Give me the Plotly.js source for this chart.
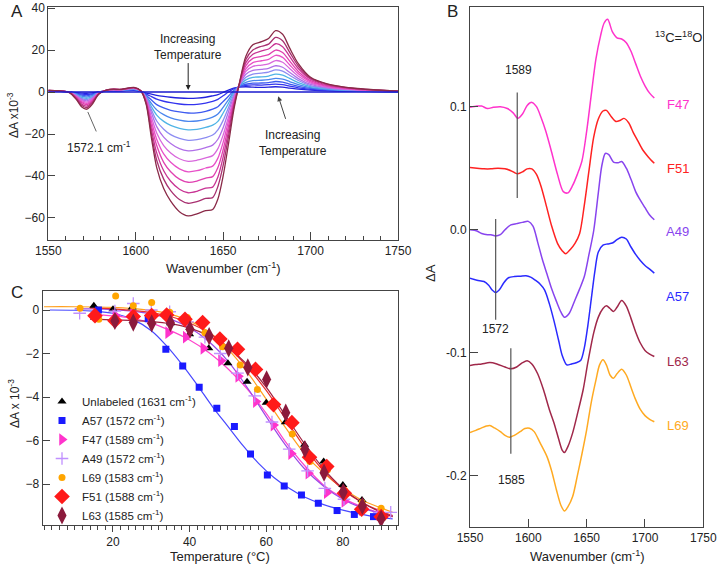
<!DOCTYPE html>
<html><head><meta charset="utf-8">
<script src="https://cdn.plot.ly/plotly-3.0.1.min.js"></script>
<style>html,body{margin:0;padding:0;background:#fff}#chart{width:720px;height:567px}</style>
</head><body><div id="chart"></div>
<script>
// ---------------- Panel A: temperature-dependent difference spectra ----------------
const wnA = [1550,1556,1562,1566,1569,1572,1575,1579,1585,1592,1599,1603,1606,1609,1612,1616,1620,1625,1630,1635,1640,1644,1647,1650,1653,1656,1659,1663,1667,1672,1676,1680,1684,1688,1693,1700,1710,1725,1750];
const specA_0  = [0,0,0,0,0,0,0,0,0,0,0,0,0,0,0,0,0,0,0,0,0,0,0,0,0,0,0,0,0,0,0,0,0,0,0,0,0,0,0];
const specA_1  = [0.6,0.4,0,-0.3,-0.5,-0.6,-0.4,0,0.4,0.5,0.8,0.2,-0.5,-1,-1.6,-2.1,-2.5,-2.85,-3,-2.9,-2.5,-1.8,-1.2,-0.2,0.9,1.8,2.3,2.5,2.3,2.2,2.3,2.5,2.3,1.9,1.4,0.9,0.5,0.3,0.1];
const specA_2  = [0.6,0.4,0,-0.5,-1,-1.2,-0.9,0,0.5,0.6,1,0.3,-1,-2.2,-3.4,-4.4,-5.1,-5.7,-6,-5.9,-5.3,-4.5,-3.5,-1.8,0,1.5,2.5,3.2,3.4,3.3,3.5,3.8,3.5,2.8,2,1.3,0.8,0.4,0.1];
const specA_3  = [0.6,0.4,0,-0.8,-1.5,-1.8,-1.3,0,0.6,0.7,1.1,0.3,-1.5,-3.8,-6,-7.6,-8.7,-9.5,-10,-9.9,-9.2,-8.2,-7,-4.5,-2,0.6,2.6,3.7,4.2,4.3,4.5,5,4.7,3.8,2.7,1.7,1,0.5,0.1];
const specA_4  = [0.6,0.4,0,-1,-2,-2.4,-1.7,0,0.7,0.8,1.3,0.3,-2,-5.5,-8.5,-10.8,-12.3,-13.4,-14,-13.8,-13,-12,-10.5,-7.3,-3.8,0,2.7,4.6,5.4,5.6,5.9,6.5,6.1,5,3.5,2.1,1.2,0.6,0.2];
const specA_5  = [0.7,0.5,0,-1.3,-2.5,-3,-2.2,-0.1,0.8,0.9,1.4,0.4,-2.3,-7,-11,-14,-15.9,-17.3,-18,-17.8,-16.9,-15.8,-14,-10,-5.5,-0.5,2.8,5.8,7,7.2,7.6,8.5,8,6.5,4.5,2.6,1.5,0.7,0.2];
const specA_6  = [0.7,0.5,0,-1.5,-3,-3.6,-2.6,-0.2,0.9,1,1.6,0.5,-2.6,-8.5,-13.8,-17.7,-20.3,-22.1,-23,-22.7,-21.7,-20.5,-18,-13.5,-7.5,-1.5,2.9,7,8.5,9,9.5,10.5,9.9,8,5.5,3.1,1.8,0.9,0.3];
const specA_7  = [0.7,0.5,0,-1.8,-3.5,-4.2,-3.1,-0.3,1,1.1,1.7,0.5,-3,-10,-16.5,-21.5,-24.5,-27,-28,-27.6,-26.5,-25.3,-22.5,-17,-9.5,-2.5,3,8.5,10.3,10.8,11.3,12.5,11.8,9.4,6.4,3.6,2,1,0.3];
const specA_8  = [0.7,0.5,-0.1,-2,-4,-4.8,-3.5,-0.4,1,1.1,1.8,0.5,-3.5,-12,-19.5,-25.5,-29,-31.8,-33,-32.5,-31.4,-30.3,-27,-20.5,-12,-3.5,3,9.8,12.2,12.8,13.4,15,14.2,11.2,7.5,4.2,2.3,1.1,0.3];
const specA_9  = [0.7,0.5,-0.1,-2.3,-4.5,-5.4,-3.9,-0.5,1.1,1.2,1.9,0.5,-4,-14,-22.5,-29.5,-33.5,-36.6,-38,-37.5,-36.2,-35.3,-31.5,-24,-14,-4.5,3,11,14,14.9,15.6,17.5,16.5,13,8.7,4.8,2.6,1.3,0.4];
const specA_10 = [0.8,0.5,-0.1,-2.6,-5,-6,-4.4,-0.6,1.1,1.2,2,0.5,-4.5,-16,-25.5,-33.5,-38,-41.5,-43,-42.4,-41,-40.3,-36,-27.5,-16.5,-5.5,3,12.5,16,17,17.8,20,18.8,14.8,9.8,5.4,2.9,1.4,0.4];
const specA_11 = [0.8,0.6,-0.2,-2.9,-5.7,-6.7,-4.9,-0.7,1.1,1.2,2.1,0.5,-5,-18,-29,-37.5,-42.5,-46.3,-48,-47.3,-45.8,-45.3,-40.5,-31,-19,-6.5,3,14,18,19.6,20.5,23,21.6,17,11.2,6.1,3.3,1.6,0.4];
const specA_12 = [0.8,0.6,-0.2,-3.2,-6.3,-7.4,-5.4,-0.8,1.2,1.3,2.1,0.5,-5.5,-20,-32.5,-41.5,-47,-51.2,-53,-52.2,-50.7,-50.3,-45,-35,-21.5,-7.5,3,15.5,20,21.8,22.8,26,24.4,19,12.4,6.6,3.6,1.7,0.4];
const specA_13 = [0.8,0.6,-0.3,-3.5,-7,-8.2,-6,-1,1.2,1.3,2.2,0.5,-6,-22,-36,-46,-52,-57,-59,-58,-56.5,-56,-51,-40,-25,-9,3,17,22.5,24,25.5,29.2,27.5,21,13.5,7,3.8,1.8,0.4];
const colorsA = ['#1a1acc','#2222dd','#3333ee','#3d5af0','#4a86ee','#4fb4e6','#8c8cf2','#b070e8','#d868dc','#e850c8','#e040b0','#c83494','#a83070','#8a2a48'];

// ---------------- Panel B: isotope-labelled spectra (offset) ----------------
const labelsB = ['F47','F51','A49','A57','L63','L69'];
const colorsB = ['#ff33cc','#ff2222','#8844ee','#2a2aff','#a0284a','#ffaa22'];
const wnF47 = [1550,1556,1560,1565,1570,1576,1582,1587,1591,1595,1599,1603,1607,1611,1615,1620,1625,1630,1634,1638,1642,1646,1650,1654,1658,1662,1665,1668,1672,1676,1680,1684,1688,1692,1696,1700,1704,1708];
const dAF47 = [0.0995,0.1005,0.1005,0.0985,0.0995,0.100,0.0985,0.095,0.0905,0.094,0.101,0.1035,0.100,0.091,0.080,0.063,0.045,0.031,0.030,0.036,0.045,0.056,0.080,0.110,0.139,0.158,0.168,0.171,0.161,0.156,0.155,0.152,0.145,0.135,0.125,0.117,0.111,0.107];
const wnF51 = [1550,1556,1562,1568,1574,1580,1585,1588,1591,1595,1599,1603,1607,1611,1615,1620,1625,1629,1632,1636,1640,1644,1648,1652,1656,1660,1664,1667,1671,1675,1679,1682,1686,1690,1694,1698,1703,1708];
const dAF51 = [0.0505,0.050,0.0495,0.0495,0.050,0.0495,0.048,0.0465,0.0455,0.047,0.0495,0.0495,0.045,0.035,0.021,0.003,-0.011,-0.017,-0.0195,-0.016,-0.011,-0.003,0.020,0.048,0.075,0.090,0.0965,0.097,0.092,0.088,0.089,0.0905,0.087,0.079,0.072,0.065,0.059,0.054];
const wnA49 = [1550,1556,1560,1565,1568,1572,1576,1580,1585,1590,1595,1600,1604,1608,1612,1616,1620,1624,1628,1631,1635,1640,1644,1648,1652,1656,1660,1663,1666,1669,1673,1677,1680,1684,1688,1692,1696,1700,1704,1708];
const dAA49 = [0.0,-0.001,-0.003,-0.004,-0.004,-0.005,-0.004,0.0,0.004,0.005,0.006,0.0068,0.003,-0.010,-0.024,-0.036,-0.048,-0.058,-0.067,-0.071,-0.068,-0.057,-0.048,-0.038,-0.020,-0.001,0.030,0.052,0.062,0.061,0.055,0.0545,0.0555,0.050,0.041,0.031,0.024,0.018,0.012,0.0081];
const wnA57 = [1550,1556,1562,1566,1569,1572,1575,1579,1583,1588,1593,1598,1602,1606,1610,1614,1618,1622,1626,1629,1633,1637,1641,1645,1648,1651,1654,1657,1660,1664,1668,1672,1676,1680,1684,1688,1692,1696,1700,1704,1708];
const dAA57 = [-0.0393,-0.041,-0.042,-0.045,-0.049,-0.051,-0.049,-0.043,-0.039,-0.038,-0.0378,-0.0374,-0.0385,-0.041,-0.044,-0.049,-0.060,-0.074,-0.090,-0.102,-0.1098,-0.109,-0.108,-0.106,-0.096,-0.078,-0.056,-0.034,-0.018,-0.0125,-0.0115,-0.0108,-0.008,-0.006,-0.0075,-0.014,-0.020,-0.025,-0.029,-0.032,-0.0352];
const wnL63 = [1550,1555,1560,1567,1573,1580,1585,1590,1595,1599,1603,1608,1613,1618,1622,1626,1629,1631,1634,1638,1642,1647,1651,1656,1660,1664,1667,1670,1673,1676,1680,1684,1688,1692,1696,1700,1704,1708];
const dAL63 = [-0.1103,-0.1095,-0.109,-0.1079,-0.109,-0.1115,-0.113,-0.1115,-0.108,-0.1065,-0.109,-0.117,-0.130,-0.146,-0.157,-0.170,-0.179,-0.181,-0.176,-0.165,-0.150,-0.130,-0.108,-0.084,-0.071,-0.064,-0.0618,-0.064,-0.0664,-0.063,-0.0575,-0.062,-0.072,-0.083,-0.092,-0.098,-0.101,-0.103];
const wnL69 = [1550,1555,1560,1564,1567,1571,1576,1580,1584,1588,1593,1597,1601,1605,1610,1616,1620,1624,1628,1631,1634,1638,1642,1646,1650,1654,1658,1661,1664,1667,1670,1673,1676,1680,1684,1688,1692,1696,1700,1704,1708];
const dAL69 = [-0.1648,-0.163,-0.161,-0.1595,-0.159,-0.161,-0.164,-0.167,-0.1686,-0.167,-0.164,-0.1615,-0.1612,-0.164,-0.173,-0.1843,-0.196,-0.211,-0.224,-0.2285,-0.225,-0.2168,-0.200,-0.182,-0.1626,-0.140,-0.122,-0.110,-0.1057,-0.110,-0.118,-0.1206,-0.117,-0.1133,-0.118,-0.128,-0.138,-0.146,-0.151,-0.154,-0.156];
const markLineX  = [1590.5, 1572, 1585];
const markLineY0 = [0.0258, -0.0732, -0.182];
const markLineY1 = [0.1116, 0.0087, -0.0962];
const markText   = ['1589','1572','1585'];
const markTextX  = [1591.5, 1571.5, 1585.7];
const markTextY  = [0.1295, -0.0808, -0.2033];
const labelYB    = [0.1016, 0.0501, -0.0014, -0.0542, -0.107, -0.159];

// ---------------- Panel C: melting curves ----------------
const namesC  = ['Unlabeled (1631 cm<sup>-1</sup>)','A57 (1572 cm<sup>-1</sup>)','F47 (1589 cm<sup>-1</sup>)','A49 (1572 cm<sup>-1</sup>)','L69 (1583 cm<sup>-1</sup>)','F51 (1588 cm<sup>-1</sup>)','L63 (1585 cm<sup>-1</sup>)'];
const tUnl = [15,20,25,30,35,40,45,50,55,60,65,70,75,80,85,90];
const yUnl = [0.2,0.03,0.12,-0.23,-0.61,-1.12,-1.76,-2.45,-3.3,-4.26,-5.16,-6.2,-6.97,-8.05,-8.74,-9.58];
const tA57 = [16.2,29.2,33.8,38.2,42.5,47.1,51.7,55.9,60.3,64.7,69.2,73.6,78.5,83,88];
const yA57 = [0.0,-0.4,-1.81,-2.57,-3.55,-4.52,-5.36,-6.62,-7.59,-8.09,-8.51,-8.88,-9.22,-9.4,-9.5];
const tF47 = [20.6,25.2,29.8,34.4,39,43.6,48.2,52.7,57.3,61.9,66.5,71,75.8,80.4,85,89.6];
const yF47 = [-0.25,-0.2,-0.4,-1.04,-1.25,-1.76,-2.33,-3.05,-4.21,-5.29,-6.6,-7.5,-8.4,-8.8,-9.18,-9.4];
const tA49 = [11.3,20.5,25.3,30,34.8,39.5,44,48,52.5,57,61.5,66,70.8,75.3,80.3,85,89.5,92.5];
const yA49 = [-0.15,-0.05,0.3,0.0,-0.08,-0.55,-1.25,-2.0,-2.9,-3.95,-5.15,-6.4,-7.4,-8.2,-8.7,-9.1,-9.3,-9.3];
const tL69 = [11.4,16.3,20.7,25.3,30.1,34.8,39.4,44,48.6,53.2,57.7,62.3,66.8,71.4,76,80.5,85,90];
const yL69 = [0.08,-0.43,0.64,0.2,0.34,-0.1,-0.35,-1.05,-1.69,-2.53,-3.65,-4.35,-5.7,-6.97,-7.35,-8.3,-8.85,-9.12];
const tF51 = [15.3,20.5,25.3,30.1,34,38.8,43.4,47.9,52.5,57.2,61.9,66.7,71.3,75.8,80.4,84.9,90];
const yF51 = [-0.26,-0.49,-0.3,-0.25,-0.23,-0.43,-0.58,-1.33,-1.81,-2.73,-4.35,-5.18,-6.77,-7.2,-8.43,-9.16,-9.5];
const tL63 = [20.5,25.3,30.1,35,40.1,45.1,50.2,55.2,60.1,65.1,70.1,75.1,80.1,85.1,90];
const yL63 = [-0.5,-0.58,-0.61,-0.6,-0.89,-1.2,-1.76,-2.64,-3.19,-4.72,-6.4,-7.48,-8.37,-9.01,-9.6];
// fitted curves
const fitTA57 = [3.5,10,15,20,25,30,34,38,42,46,50,54,58,62,66,70,75,80,85,90,93];
const fitYA57 = [0,-0.01,-0.05,-0.15,-0.42,-0.95,-1.65,-2.5,-3.45,-4.45,-5.35,-6.25,-7.05,-7.7,-8.2,-8.6,-8.95,-9.2,-9.4,-9.55,-9.6];
const fitTF47 = [14,20,25,30,35,40,45,50,55,60,65,70,75,80,85,90,93];
const fitYF47 = [-0.2,-0.27,-0.38,-0.6,-0.95,-1.38,-1.95,-2.7,-3.62,-4.75,-6.05,-7.15,-8.05,-8.65,-9.05,-9.35,-9.5];
const fitTA49 = [10,15,20,25,30,35,40,45,50,55,60,65,70,75,80,85,90,93];
const fitYA49 = [0.05,0.05,0.02,-0.05,-0.18,-0.42,-0.82,-1.45,-2.35,-3.55,-4.9,-6.2,-7.3,-8.1,-8.7,-9.1,-9.35,-9.45];
const fitTL69 = [2,10,20,25,30,35,40,45,50,55,60,65,70,75,80,85,90,93];
const fitYL69 = [0.15,0.15,0.12,0.07,-0.02,-0.2,-0.5,-1.0,-1.8,-2.85,-4.1,-5.4,-6.6,-7.5,-8.2,-8.75,-9.1,-9.3];
const fitTF51 = [14,20,25,30,35,40,45,50,55,60,65,70,75,80,85,90,93];
const fitYF51 = [0.1,0.05,-0.02,-0.12,-0.3,-0.6,-1.05,-1.7,-2.6,-3.7,-5.0,-6.3,-7.4,-8.25,-8.85,-9.25,-9.45];
const fitTL63 = [14,20,25,30,35,40,45,50,55,60,65,70,75,80,85,90,93];
const fitYL63 = [-0.42,-0.45,-0.48,-0.53,-0.63,-0.83,-1.18,-1.72,-2.5,-3.55,-4.85,-6.15,-7.3,-8.2,-8.85,-9.3,-9.5];

// ---------------- build ----------------
const FONT = 'Liberation Sans, Arial, Helvetica, sans-serif';
const W = 720, H = 567;
const px = v => v / W, py = v => 1 - v / H;
const traces = [];

const specA = [specA_1,specA_2,specA_3,specA_4,specA_5,specA_6,specA_7,specA_8,specA_9,specA_10,specA_11,specA_12,specA_13];
specA.forEach((ys, i) => traces.push({x: wnA, y: ys, xaxis:'x', yaxis:'y', mode:'lines',
  line:{color: colorsA[i+1], width:1.3, shape:'spline', smoothing:0.8}, showlegend:false, hoverinfo:'skip'}));
traces.push({x: wnA, y: specA_0, xaxis:'x', yaxis:'y', mode:'lines', line:{color: colorsA[0], width:1.3}, showlegend:false, hoverinfo:'skip'});

const wnB = [wnF47, wnF51, wnA49, wnA57, wnL63, wnL69];
const dAB = [dAF47, dAF51, dAA49, dAA57, dAL63, dAL69];
wnB.forEach((xs, i) => traces.push({x: xs, y: dAB[i], xaxis:'x2', yaxis:'y2', mode:'lines',
  line:{color: colorsB[i], width:1.5, shape:'spline', smoothing:0.8}, showlegend:false, hoverinfo:'skip'}));

const colorsC = ['#000000','#1a1aff','#ff33cc','#c090ff','#ffa500','#ff1a1a','#8b1a3c'];
const fitColors = ['#4848ff','#ff44cc','#9a48e8','#ffa020','#e83030','#a02040'];
const fitsT = [fitTA57, fitTF47, fitTA49, fitTL69, fitTF51, fitTL63];
const fitsY = [fitYA57, fitYF47, fitYA49, fitYL69, fitYF51, fitYL63];
fitsT.forEach((xs, i) => traces.push({x: xs, y: fitsY[i], xaxis:'x3', yaxis:'y3', mode:'lines',
  line:{color: fitColors[i], width:1.2, shape:'spline', smoothing:1}, showlegend:false, hoverinfo:'skip'}));

const ptsT = [tUnl, tA57, tF47, tA49, tL69, tF51, tL63];
const ptsY = [yUnl, yA57, yF47, yA49, yL69, yF51, yL63];
const symbols = ['triangle-up','square','triangle-right','cross-thin-open','circle','diamond','diamond-tall'];
const sizes = [8,7,11,9,7,12,13];
ptsT.forEach((xs, i) => traces.push({x: xs, y: ptsY[i], xaxis:'x3', yaxis:'y3', mode:'markers', name: namesC[i],
  marker:{symbol: symbols[i], size: sizes[i], color: colorsC[i], line:{color: colorsC[i], width: i===3 ? 1.3 : 0}},
  hoverinfo:'skip'}));

const axBase = {showgrid:false, zeroline:false, showline:true, mirror:true, linecolor:'#444', linewidth:1,
  tickcolor:'#444', tickfont:{family:FONT, size:12, color:'#222'}, fixedrange:true};

const layout = {
  width: W, height: H, margin:{l:0,r:0,t:0,b:0}, paper_bgcolor:'#fff', plot_bgcolor:'#fff',
  font:{family:FONT, color:'#222'}, hovermode:false,
  xaxis: Object.assign({}, axBase, {domain:[px(48.3), px(398)], range:[1550,1750], anchor:'y',
    tickmode:'linear', tick0:1550, dtick:50, ticks:'inside', ticklen:8,
    minor:{dtick:10, tick0:1550, ticks:'inside', ticklen:4, tickcolor:'#444'}}),
  yaxis: Object.assign({}, axBase, {domain:[py(240), py(7)], range:[-70.5,40.5], anchor:'x',
    tickmode:'linear', tick0:0, dtick:20, ticks:'inside', ticklen:7}),
  xaxis2: Object.assign({}, axBase, {domain:[px(470), px(703.3)], range:[1550,1750], anchor:'y2',
    tickmode:'linear', tick0:1550, dtick:50, ticks:'inside', ticklen:8}),
  yaxis2: Object.assign({}, axBase, {domain:[py(527), py(7)], range:[-0.2415,0.181], anchor:'x2',
    tickmode:'array', tickvals:[-0.2,-0.1,0,0.1], ticktext:['-0.2','-0.1','0.0','0.1'], ticks:'inside', ticklen:8}),
  xaxis3: Object.assign({}, axBase, {domain:[px(42.5), px(398)], range:[1.6,94.4], anchor:'y3',
    tickmode:'linear', tick0:0, dtick:20, ticks:'outside', ticklen:6,
    minor:{dtick:2, tick0:0, ticks:'outside', ticklen:4, tickcolor:'#444'}}),
  yaxis3: Object.assign({}, axBase, {domain:[py(525), py(291)], range:[-9.885,0.874], anchor:'x3',
    tickmode:'linear', tick0:0, dtick:2, ticks:'inside', ticklen:7}),
  showlegend:true,
  legend:{x: px(42), y: py(387), xanchor:'left', yanchor:'top', bgcolor:'rgba(0,0,0,0)', borderwidth:0,
    font:{family:FONT, size:11.5, color:'#222'}, tracegroupgap:0, itemwidth:30},
  shapes: [], annotations: []
};

markLineX.forEach((x, i) => layout.shapes.push({type:'line', xref:'x2', yref:'y2', x0:x, x1:x,
  y0: markLineY0[i], y1: markLineY1[i], line:{color:'#555', width:1.2}}));

const ann = layout.annotations;
const T = (o) => ann.push(Object.assign({showarrow:false, xanchor:'center', yanchor:'middle',
  font:{family:FONT, size:12, color:'#222'}}, o));
// panel letters
T({text:'A', xref:'paper', yref:'paper', x:px(17), y:py(11), font:{family:FONT, size:17, color:'#222'}});
T({text:'B', xref:'paper', yref:'paper', x:px(452), y:py(11), font:{family:FONT, size:17, color:'#222'}});
T({text:'C', xref:'paper', yref:'paper', x:px(17), y:py(292), font:{family:FONT, size:17, color:'#222'}});
// axis titles
T({text:'Wavenumber (cm<sup>-1</sup>)', xref:'paper', yref:'paper', x:px(223), y:py(268), font:{family:FONT, size:13, color:'#222'}});
T({text:'ΔA x10<sup>-3</sup>', xref:'paper', yref:'paper', x:px(13), y:py(115), textangle:-90, font:{family:FONT, size:12, color:'#222'}});
T({text:'Wavenumber (cm<sup>-1</sup>)', xref:'paper', yref:'paper', x:px(587), y:py(556), font:{family:FONT, size:13, color:'#222'}});
T({text:'ΔA', xref:'paper', yref:'paper', x:px(431), y:py(273), textangle:-90, font:{family:FONT, size:13, color:'#222'}});
T({text:'Temperature (°C)', xref:'paper', yref:'paper', x:px(220), y:py(556), font:{family:FONT, size:13, color:'#222'}});
T({text:'ΔA x 10<sup>-3</sup>', xref:'paper', yref:'paper', x:px(14), y:py(404), textangle:-90, font:{family:FONT, size:12, color:'#222'}});
// panel A notes
T({text:'Increasing<br>Temperature', xref:'x', yref:'y', x:1630, y:21.5});
ann.push({text:'', xref:'x', yref:'y', axref:'x', ayref:'y', x:1630, y:1, ax:1630, ay:14.5, showarrow:true,
  arrowhead:2, arrowsize:1, arrowwidth:1, arrowcolor:'#222'});
T({text:'Increasing<br>Temperature', xref:'x', yref:'y', x:1690, y:-24.2});
ann.push({text:'', xref:'x', yref:'y', axref:'x', ayref:'y', x:1681.5, y:-2, ax:1686, ay:-13.5, showarrow:true,
  arrowhead:2, arrowsize:1, arrowwidth:1, arrowcolor:'#444'});
T({text:'1572.1 cm<sup>-1</sup>', xref:'x', yref:'y', x:1579, y:-26});
ann.push({text:'', xref:'x', yref:'y', axref:'x', ayref:'y', x:1572.6, y:-9.5, ax:1577.8, ay:-19.5, showarrow:true,
  arrowhead:0, arrowwidth:1, arrowcolor:'#666'});
// panel B notes
markText.forEach((t, i) => T({text:t, xref:'x2', yref:'y2', x:markTextX[i], y:markTextY[i]}));
T({text:'<sup>13</sup>C=<sup>18</sup>O', xref:'x2', yref:'y2', x:1728.6, y:0.157, font:{family:FONT, size:13, color:'#222'}});
labelsB.forEach((t, i) => T({text:t, xref:'x2', yref:'y2', x:1728, y:labelYB[i], font:{family:FONT, size:13, color:colorsB[i]}}));

Plotly.newPlot('chart', traces, layout, {staticPlot:true, displayModeBar:false});
</script></body></html>
